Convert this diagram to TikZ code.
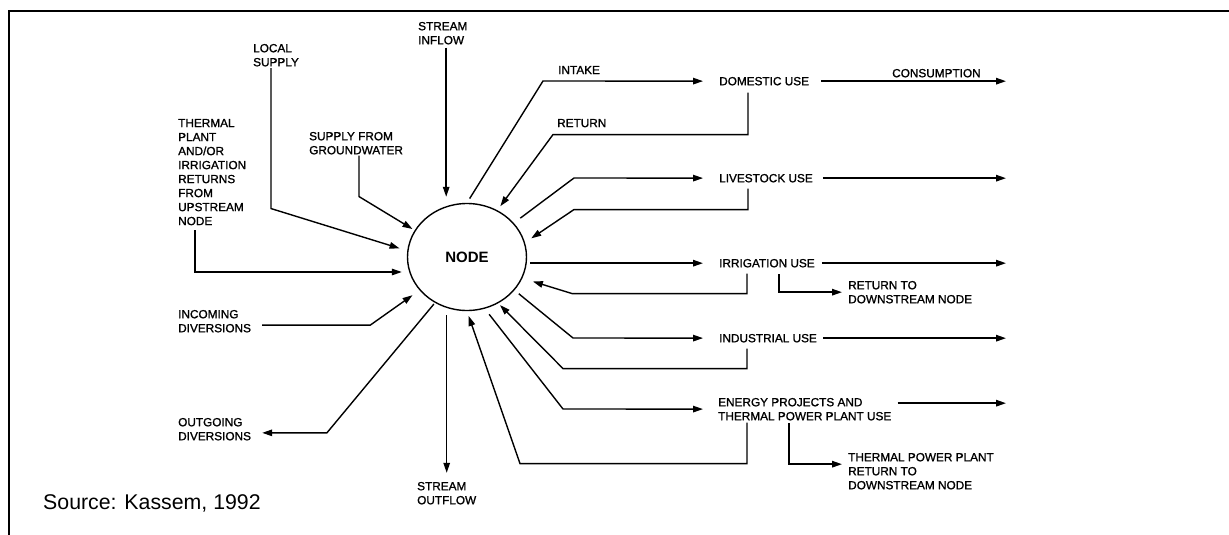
\documentclass[tikz,border=0pt]{standalone}
\usepackage{fontspec}
\setmainfont{Liberation Sans}
\newfontfamily\lblfamily[FakeBold=1.2]{Liberation Sans}
\usetikzlibrary{arrows.meta}
\usetikzlibrary{shapes.geometric}
\newcommand{\lblfont}{\lblfamily\fontsize{11.8}{14}\selectfont}

\begin{document}
\begin{tikzpicture}[x=1pt,y=-1pt]
  \tikzset{
    lbl/.style={font=\lblfont, align=left, anchor=north west, inner sep=0pt},
    flow/.style={line width=1.4pt, -{Triangle[length=10pt,width=6.5pt]}}
  }
  \useasboundingbox (0,0) rectangle (1229,535);
  \draw[line width=1.8pt] (9,535) -- (9,11) -- (1229,11);

  \node (hub) [ellipse, draw, line width=1.4pt, minimum width=119pt, minimum height=107pt, inner sep=0pt, font=\fontsize{15}{18}\selectfont\bfseries] at (467,257) {NODE};
  \coordinate (rim) at (1006,0);

  % left and top side
  \node (inflow) [lbl] at (418,21.8) {STREAM\\INFLOW};
  \node (local) [lbl] at (253,43.8) {LOCAL\\SUPPLY};
  \node (ground) [lbl] at (309,131.8) {SUPPLY FROM\\GROUNDWATER};
  \node (thermal) [lbl] at (178,118.8) {THERMAL\\PLANT\\AND/OR\\IRRIGATION\\RETURNS\\FROM\\UPSTREAM\\NODE};
  \node (incoming) [lbl] at (178,309.8) {INCOMING\\DIVERSIONS};
  \node (outgoing) [lbl] at (178,417.8) {OUTGOING\\DIVERSIONS};
  \node (outflow) [lbl] at (417,481.8) {STREAM\\OUTFLOW};
  \node (source) [anchor=base west, inner sep=0pt, font=\fontsize{21.3}{25}\selectfont] at (43,509) {Source: Kassem, 1992};

  % right side
  \node (intake) [lbl] at (558,65.8) {INTAKE};
  \node (return) [lbl] at (557,118.8) {RETURN};
  \node (domestic) [lbl] at (719,76.8) {DOMESTIC USE};
  \node (consumption) [lbl] at (892,68.8) {CONSUMPTION};
  \node (livestock) [lbl] at (719,173.8) {LIVESTOCK USE};
  \node (irrigation) [lbl] at (719,258.8) {IRRIGATION USE};
  \node (irrdown) [lbl] at (848,280.8) {RETURN TO\\DOWNSTREAM NODE};
  \node (industrial) [lbl] at (719,333.8) {INDUSTRIAL USE};
  \node (energy) [lbl] at (718,397.8) {ENERGY PROJECTS AND\\THERMAL POWER PLANT USE};
  \node (thermdown) [lbl] at (848,452.8) {THERMAL POWER PLANT\\RETURN TO\\DOWNSTREAM NODE};

  % inflows and outflows of the node
  \draw[flow, shorten <=3pt, shorten >=6pt] ([xshift=3.4pt]inflow.south) -- ([xshift=3.4pt]inflow.south |- hub.north);
  \draw[flow, shorten <=1.5pt, shorten >=8pt] ([xshift=18pt]local.south west) -- ++(0,142) -- (hub.174);
  \draw[flow, shorten <=1pt, shorten >=2.5pt] ([xshift=50pt]ground.south west) -- ++(0,42) -- (hub.153);
  \draw[flow, shorten <=5pt, shorten >=5pt] ([xshift=17pt]thermal.south west) |- ([yshift=-15pt]hub.west);
  \draw[flow, shorten <=11pt, shorten >=8.5pt] ([yshift=-4pt]incoming.east) -- ++(119,0) -- (hub.215);
  \draw[flow, shorten <=1.5pt, shorten >=11pt] (hub.235) -- ++(-108,130) coordinate (og) -- (og -| outgoing.east);
  \draw[flow, shorten <=4pt, shorten >=9pt] (outflow.north |- hub.south) -- (outflow.north);

  % domestic
  \draw[flow, shorten <=5pt, shorten >=16pt] (hub.north) -- (543,81) -- (domestic);
  \draw[flow, shorten <=7pt, shorten >=5pt] ([xshift=29pt]domestic.south west) -- ++(0,49) -- ++(-195,0) -- (hub.57);
  \draw[flow, shorten <=12pt] (domestic.east) -- (domestic.east -| rim);

  % livestock
  \draw[flow, shorten <=8pt, shorten >=16pt] (hub.36) -- (574,178) -- (livestock);
  \draw[flow, shorten <=6pt, shorten >=7.5pt] ([xshift=29pt]livestock.south west) -- ++(0,27) -- ++(-174,0) -- (hub.14);
  \draw[flow, shorten <=10pt] (livestock.east) -- (livestock.east -| rim);

  % irrigation
  \draw[flow, shorten <=3pt, shorten >=16pt] (hub.east |- irrigation) -- (irrigation);
  \draw[flow, shorten <=6pt, shorten >=11pt] ([xshift=28pt]irrigation.south west) -- ++(0,26) -- ++(-175,0) -- (hub.339);
  \draw[flow, shorten <=7pt] (irrigation.east) -- (irrigation.east -| rim);
  \draw[flow, shorten <=6.5pt, shorten >=6pt] ([xshift=60pt]irrigation.south west) |- (irrdown.west);

  % industrial
  \draw[flow, shorten <=5.5pt, shorten >=16pt] (hub.325) -- (573,338) -- (industrial);
  \draw[flow, shorten <=6pt, shorten >=2.5pt] ([xshift=28pt]industrial.south west) -- ++(0,26) -- ++(-184,0) -- (hub.304);
  \draw[flow, shorten <=6pt] (industrial.east) -- (industrial.east -| rim);

  % energy and thermal power
  \draw[flow, shorten <=7pt, shorten >=15pt] (hub.289) -- (563,409) -- (energy);
  \draw[flow, shorten <=2pt, shorten >=5pt] ([xshift=29pt]energy.south west) -- ++(0,43) -- ++(-227,0) -- (hub.south);
  \draw[flow, shorten <=6pt] ([yshift=6pt]energy.east) -- ([yshift=6pt]energy.east -| rim);
  \draw[flow, shorten <=2.5pt, shorten >=6pt] ([xshift=71pt]energy.south west) |- ([yshift=7pt]thermdown.west);
\end{tikzpicture}
\end{document}
